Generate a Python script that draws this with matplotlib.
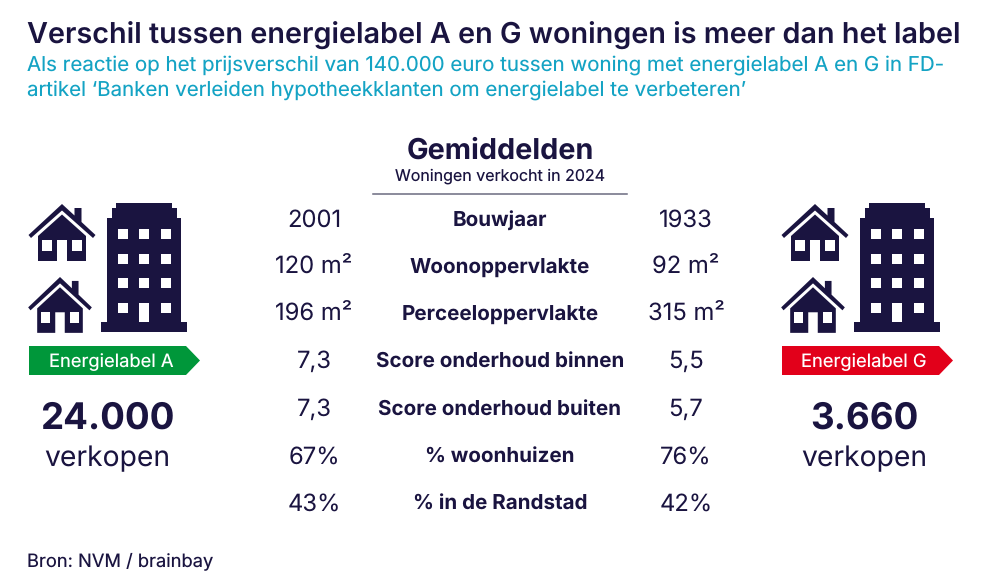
import matplotlib
matplotlib.use("Agg")
import matplotlib.pyplot as plt
from matplotlib.patches import Polygon, Rectangle

title = "Verschil tussen energielabel A en G woningen is meer dan het label"
subtitle = ["Als reactie op het prijsverschil van 140.000 euro tussen woning met energielabel A en G in FD-",
            "artikel ‘Banken verleiden hypotheekklanten om energielabel te verbeteren’"]
categories = ["Bouwjaar", "Woonoppervlakte", "Perceeloppervlakte", "Score onderhoud binnen",
              "Score onderhoud buiten", "% woonhuizen", "% in de Randstad"]
values_a = ["2001", "120 m²", "196 m²", "7,3", "7,3", "67%", "43%"]
values_g = ["1933", "92 m²", "315 m²", "5,5", "5,7", "76%", "42%"]
sales = ["24.000", "3.660"]

NAVY = "#1a1440"; TEAL = "#14a3c4"; GREEN = "#00973a"; RED = "#e2001a"; WHITE = "white"
FONT = ["Inter", "DejaVu Sans"]
plt.rcParams["font.family"] = FONT
plt.rcParams["text.hinting"] = "no_hinting"

fig = plt.figure(figsize=(10, 5.82), dpi=100)
ax = fig.add_axes([0, 0, 1, 1])
ax.set_xlim(0, 1000); ax.set_ylim(582, 0); ax.axis("off")

def T(x, y, s, px, color=NAVY, ha="center", weight="normal"):
    ax.text(x, y, s, fontsize=px * 0.72, color=color, ha=ha, va="center", fontweight=weight)

T(27, 36, title, 28.8, ha="left", weight="semibold")
T(27, 65.5, subtitle[0], 20.5, color=TEAL, ha="left")
T(27, 90, subtitle[1], 20.5, color=TEAL, ha="left")

T(500, 151, "Gemiddelden", 28.8, weight="bold")
T(500, 176, "Woningen verkocht in 2024", 16)
ax.plot([373, 627], [194, 194], color="#6b6b80", lw=1.1)

row_y = [221, 268, 315, 362, 410, 457, 504]
for y, c, a, g in zip(row_y, categories, values_a, values_g):
    T(500, y, c, 20.6, weight="bold")
    T(314, y, a, 23.8)
    T(686, y, g, 23.8)

def P(pts, fc=NAVY, z=2):
    ax.add_patch(Polygon(pts, closed=True, fc=fc, ec="none", zorder=z))

def R(x0, y0, x1, y1, fc=WHITE, z=3):
    ax.add_patch(Rectangle((x0, y0), x1 - x0, y1 - y0, fc=fc, ec="none", zorder=z))

def house(dx, dy, s, w):
    def m(x, y):
        return (dx + x * s * w, dy + y * s)
    # roof band with chimney
    P([m(0, 0), m(-33.5, 31), m(-31, 34), m(0, 6.5), m(31, 34), m(33.5, 31), m(19.5, 18), m(19.5, 4), m(12.5, 4), m(12.5, 11.5)])
    # body
    P([m(0, 10.5), m(-24, 32), m(-24, 57), m(-5, 57), m(-5, 36), m(5, 36), m(5, 57), m(24, 57), m(24, 32)])
    R(*m(-20, 36), *m(-10, 47))
    R(*m(10, 36), *m(20, 47))

def building(dx):
    P([(dx + 116, 203), (dx + 172, 203), (dx + 172, 208), (dx + 177, 208), (dx + 177, 218),
       (dx + 181, 218), (dx + 181, 322), (dx + 187, 322), (dx + 187, 332), (dx + 101, 332),
       (dx + 101, 322), (dx + 107, 322), (dx + 107, 218), (dx + 112, 218), (dx + 112, 208), (dx + 116, 208)])
    cols = [118, 139, 161]
    rows = [229, 254, 278, 303]
    for r in rows:
        for c in cols:
            if r == 303 and c == 139:
                R(dx + c, r, dx + c + 10, r + 19)
            else:
                R(dx + c, r, dx + c + 10, r + 10)

def group(dx, color, label):
    house(dx + 62, 204, 1.0, 1.0)
    house(dx + 60, 277, 0.98, 0.97)
    building(dx)
    P([(dx + 29, 346), (dx + 186, 346), (dx + 200, 360.5), (dx + 186, 375), (dx + 29, 375)], fc=color)
    T(dx + 111, 362, label, 18.3, color=WHITE)

group(0, GREEN, "Energielabel A")
group(753, RED, "Energielabel G")

for x, s in zip([107, 864], sales):
    T(x, 419, s, 36.7, weight="bold")
    T(x, 459, "verkopen", 28.3)

T(27, 561, "Bron: NVM / brainbay", 18.3, ha="left")

fig.savefig("out.png", dpi=100)
